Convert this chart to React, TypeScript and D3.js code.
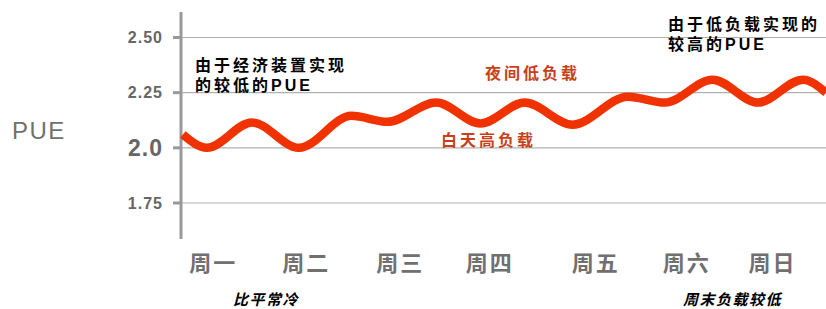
import React, { useRef, useEffect } from 'react';
import * as d3 from 'd3';

// wave extrema (x in days from Monday start, y = PUE)
const waveDays = [0.02, 0.28, 0.77, 1.28, 1.85, 2.24, 2.77, 3.25, 3.73, 4.25, 4.85, 5.25, 5.77, 6.26, 6.75, 7.0];
const wavePue = [2.06, 2.0, 2.115, 2.0, 2.145, 2.118, 2.205, 2.11, 2.205, 2.105, 2.232, 2.205, 2.309, 2.205, 2.309, 2.25];

const dayLabels = ['周一', '周二', '周三', '周四', '周五', '周六', '周日'];
const dayLabelPos = [0.35, 1.36, 2.38, 3.35, 4.5, 5.49, 6.42];

const yTicks = [1.75, 2.0, 2.25, 2.5];
const yTickLabels = ['1.75', '2.0', '2.25', '2.50'];

const CJK = '"Noto Sans CJK SC", "Liberation Sans", sans-serif';
const LATIN = '"Liberation Sans", Arial, sans-serif';
const MIXED = '"Liberation Sans", "Noto Sans CJK SC", sans-serif';

const App = () => {
    const svgRef = useRef<SVGSVGElement>(null);

    useEffect(() => {
        const width = 826;
        const height = 309;
        const axisX = 181;

        const svg = d3.select(svgRef.current)
            .attr('width', width)
            .attr('height', height);
        svg.selectAll('*').remove();

        const x = d3.scaleLinear().domain([0, 7]).range([axisX, width]);
        const y = d3.scaleLinear().domain([1.75, 2.5]).range([203, 37.5]);

        // gridlines
        svg.append('g')
            .selectAll('line')
            .data(yTicks)
            .join('line')
            .attr('x1', axisX)
            .attr('x2', width)
            .attr('y1', (d) => y(d))
            .attr('y2', (d) => y(d))
            .attr('stroke', '#b0b0b0')
            .attr('stroke-width', 1.2);

        // tick marks
        svg.append('g')
            .selectAll('line')
            .data(yTicks)
            .join('line')
            .attr('x1', axisX - 8)
            .attr('x2', axisX)
            .attr('y1', (d) => y(d))
            .attr('y2', (d) => y(d))
            .attr('stroke', '#999')
            .attr('stroke-width', 3);

        // y axis line
        svg.append('line')
            .attr('x1', axisX)
            .attr('x2', axisX)
            .attr('y1', 12)
            .attr('y2', 239)
            .attr('stroke', '#999')
            .attr('stroke-width', 3);

        // y tick labels
        svg.append('g')
            .selectAll('text')
            .data(yTicks)
            .join('text')
            .attr('x', 163)
            .attr('y', (d) => y(d))
            .attr('dy', '0.35em')
            .attr('text-anchor', 'end')
            .attr('font-family', LATIN)
            .attr('font-weight', 'bold')
            .attr('font-size', (d) => (d === 2.0 ? 23 : 16))
            .attr('letter-spacing', 1)
            .attr('fill', '#666')
            .text((d, i) => yTickLabels[i]);

        svg.append('text')
            .attr('x', 12)
            .attr('y', 131)
            .attr('dy', '0.35em')
            .attr('font-family', LATIN)
            .attr('font-size', 24)
            .attr('letter-spacing', 1.5)
            .attr('fill', '#707070')
            .text('PUE');

        // wave line
        const line = d3.line<number>()
            .x((d, i) => x(waveDays[i]))
            .y((d) => y(d))
            .curve(d3.curveMonotoneX);

        svg.append('path')
            .datum(wavePue)
            .attr('fill', 'none')
            .attr('stroke', '#f03200')
            .attr('stroke-width', 8.5)
            .attr('d', line);

        // day labels
        svg.append('g')
            .selectAll('text')
            .data(dayLabels)
            .join('text')
            .attr('x', (d, i) => x(dayLabelPos[i]))
            .attr('y', 263)
            .attr('dy', '0.35em')
            .attr('text-anchor', 'middle')
            .attr('font-family', CJK)
            .attr('font-weight', 'bold')
            .attr('font-size', 22)
            .attr('letter-spacing', 2)
            .attr('fill', '#707070')
            .text((d) => d);

        // annotations
        const note = (lines: string[], x0: number, y0: number, color: string, lh: number) => {
            lines.forEach((s, i) => {
                svg.append('text')
                    .attr('x', x0)
                    .attr('y', y0 + i * lh)
                    .attr('font-family', MIXED)
                    .attr('font-weight', 'bold')
                    .attr('font-size', 16)
                    .attr('letter-spacing', 3)
                    .attr('fill', color)
                    .text(s);
            });
        };
        note(['由于经济装置实现', '的较低的PUE'], 195, 71, '#000', 19.5);
        note(['由于低负载实现的', '较高的PUE'], 668, 30, '#000', 19.5);
        note(['夜间低负载'], 485, 79, '#c8401a', 0);
        note(['白天高负载'], 441, 146, '#c8401a', 0);

        const italic = (t: string, x0: number, y0: number) => {
            svg.append('text')
                .attr('x', x0)
                .attr('y', y0)
                .attr('font-family', CJK)
                .attr('font-weight', 'bold')
                .attr('font-style', 'italic')
                .attr('font-size', 15)
                .attr('letter-spacing', 1.5)
                .attr('fill', '#000')
                .text(t);
        };
        italic('比平常冷', 233, 305);
        italic('周末负载较低', 683, 305);
    }, []);

    return <svg ref={svgRef} style={{ position: 'absolute', left: 0, top: 0 }}></svg>;
};

export default App;
